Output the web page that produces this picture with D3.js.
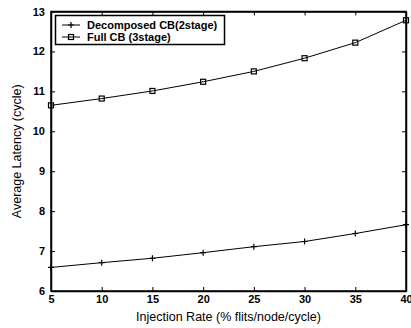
<!DOCTYPE html>
<html>
<head>
<meta charset="utf-8">
<script src="https://cdn.jsdelivr.net/npm/d3@7"></script>
<style>
body { margin: 0; background: #fff; }
text { font-family: "Liberation Sans", Arial, sans-serif; }
</style>
</head>
<body>
<svg id="chart" width="411" height="328"></svg>
<script>
var injection = [5, 10, 15, 20, 25, 30, 35, 40];
var decomposed = [6.59, 6.71, 6.82, 6.96, 7.11, 7.24, 7.44, 7.66];
var fullCB = [10.65, 10.82, 11.01, 11.24, 11.5, 11.83, 12.22, 12.78];
var seriesNames = ["Decomposed CB(2stage)", "Full CB (3stage)"];
var xTicks = [5, 10, 15, 20, 25, 30, 35, 40];
var yTicks = [6, 7, 8, 9, 10, 11, 12, 13];

var svg = d3.select("#chart");
var pLeft = 51, pRight = 406, pTop = 11.5, pBottom = 291;

var x = d3.scaleLinear().domain([5, 40]).range([pLeft, pRight]);
var y = d3.scaleLinear().domain([6, 13]).range([pBottom, pTop]);

// inward ticks on all sides
svg.append("g").attr("transform", "translate(0," + pBottom + ")")
    .call(d3.axisBottom(x).tickValues(xTicks).tickSizeInner(-4).tickSizeOuter(0).tickPadding(4).tickFormat(d3.format("d")));
svg.append("g").attr("transform", "translate(0," + pTop + ")")
    .call(d3.axisTop(x).tickValues(xTicks).tickSizeInner(-4).tickSizeOuter(0).tickFormat(""));
svg.append("g").attr("transform", "translate(" + pLeft + ",0)")
    .call(d3.axisLeft(y).tickValues(yTicks).tickSizeInner(-4).tickSizeOuter(0).tickPadding(6).tickFormat(d3.format("d")));
svg.append("g").attr("transform", "translate(" + pRight + ",0)")
    .call(d3.axisRight(y).tickValues(yTicks).tickSizeInner(-4).tickSizeOuter(0).tickFormat(""));

svg.selectAll(".domain").attr("stroke", "#000").attr("stroke-width", 1.5);
svg.selectAll(".tick line").attr("stroke", "#000");
svg.selectAll(".tick text").attr("font-size", 11).attr("font-weight", "bold")
    .attr("font-family", "Liberation Sans, Arial, sans-serif").attr("fill", "#000");

svg.append("rect").attr("x", pLeft).attr("y", pTop)
    .attr("width", pRight - pLeft).attr("height", pBottom - pTop)
    .attr("fill", "none").attr("stroke", "#000").attr("stroke-width", 1.5);

var line = d3.line().x(function(d, i) { return x(injection[i]); }).y(function(d) { return y(d); });

svg.append("path").datum(decomposed).attr("d", line)
    .attr("fill", "none").attr("stroke", "#000").attr("stroke-width", 1);
svg.append("path").datum(fullCB).attr("d", line)
    .attr("fill", "none").attr("stroke", "#000").attr("stroke-width", 1);

function plus(g, cx, cy) {
    g.append("path").attr("d", "M" + (cx - 3) + "," + cy + "H" + (cx + 3) + "M" + cx + "," + (cy - 3) + "V" + (cy + 3))
        .attr("stroke", "#000").attr("stroke-width", 1.2);
}
function square(g, cx, cy) {
    g.append("rect").attr("x", cx - 2.5).attr("y", cy - 2.5).attr("width", 5).attr("height", 5)
        .attr("fill", "none").attr("stroke", "#000").attr("stroke-width", 1.2);
}

var marks = svg.append("g");
decomposed.forEach(function(d, i) { plus(marks, x(injection[i]), y(d)); });
fullCB.forEach(function(d, i) { square(marks, x(injection[i]), y(d)); });

// legend
var lg = svg.append("g");
lg.append("rect").attr("x", 55.5).attr("y", 15.5).attr("width", 169).attr("height", 29)
    .attr("fill", "#fff").attr("stroke", "#000").attr("stroke-width", 1.5);
[0, 1].forEach(function(i) {
    var ly = 25 + i * 12;
    lg.append("line").attr("x1", 62).attr("x2", 80).attr("y1", ly).attr("y2", ly)
        .attr("stroke", "#000").attr("stroke-width", 1);
    if (i === 0) plus(lg, 71, ly); else square(lg, 71, ly);
    lg.append("text").attr("x", 87).attr("y", ly + 4).attr("font-size", 11)
        .attr("font-weight", "bold").text(seriesNames[i]);
});

svg.append("text").attr("x", (pLeft + pRight) / 2).attr("y", 321).attr("text-anchor", "middle")
    .attr("font-size", 12.5).text("Injection Rate (% flits/node/cycle)");
svg.append("text").attr("transform", "translate(21," + ((pTop + pBottom) / 2) + ") rotate(-90)")
    .attr("text-anchor", "middle").attr("font-size", 12.5).text("Average Latency (cycle)");
</script>
</body>
</html>
